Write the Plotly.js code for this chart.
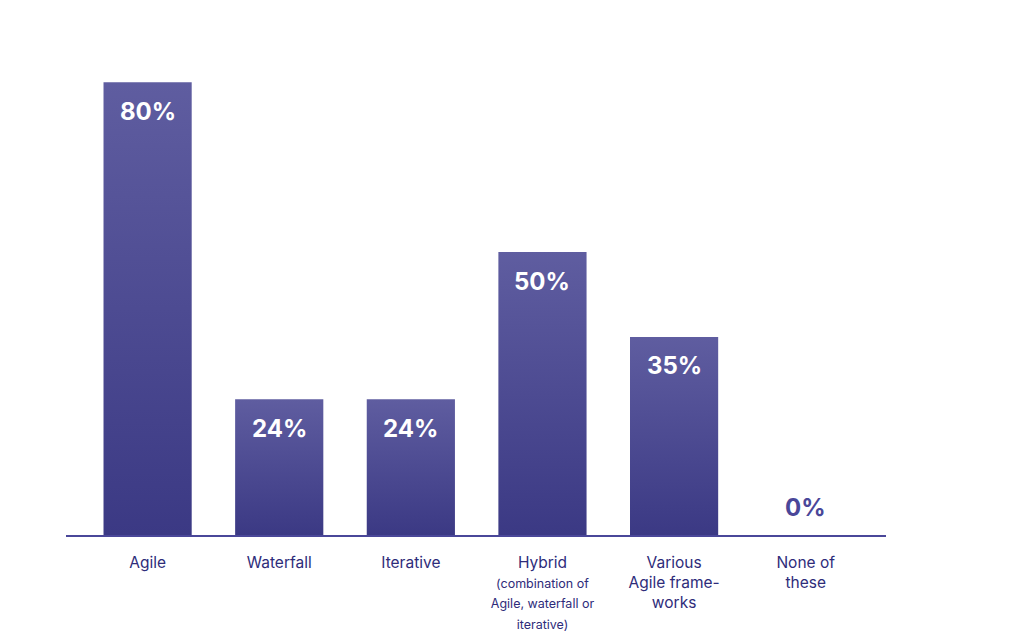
<!DOCTYPE html>
<html>
<head>
<meta charset="utf-8">
<script src="https://cdn.plot.ly/plotly-3.0.1.min.js"></script>
<style>
html,body{margin:0;padding:0;background:#fff;}
#chart{width:1024px;height:643px;}
</style>
</head>
<body>
<div id="chart"></div>
<script>
const categories = ["Agile", "Waterfall", "Iterative", "Hybrid", "Various", "None"];
const tickLabels = [
  "Agile",
  "Waterfall",
  "Iterative",
  "Hybrid<br><span style=\"font-size:12.5px\">(combination of</span><br><span style=\"font-size:12.5px\">Agile, waterfall or</span><br><span style=\"font-size:12.5px\">iterative)</span>",
  "Various<br>Agile frame-<br>works",
  "None of<br>these"
];
const values = [80, 24, 24, 50, 35, 0];
const valueLabels = ["80%", "24%", "24%", "50%", "35%", "0%"];

const annotations = categories.map((c, i) => ({
  x: c, y: values[i], xref: 'x', yref: 'y',
  text: valueLabels[i], showarrow: false,
  yshift: values[i] > 0 ? -29 : 28,
  font: {family: 'Inter, sans-serif', size: 24, color: values[i] > 0 ? '#ffffff' : '#4a4799', weight: 700}
}));

const trace = {
  type: 'bar', x: categories, y: values,
  marker: {color: '#4a4890', line: {width: 0}},
  hoverinfo: 'none'
};

const layout = {
  width: 1024, height: 643,
  margin: {l: 66, r: 138, t: 54, b: 108},
  paper_bgcolor: '#ffffff', plot_bgcolor: '#ffffff',
  bargap: 0.33,
  showlegend: false,
  font: {family: 'Inter, sans-serif', color: '#2e2c7a'},
  xaxis: {
    type: 'category', range: [-0.62, 5.61],
    tickvals: categories, ticktext: tickLabels,
    showline: true, linecolor: '#4a4799', linewidth: 1.5,
    showgrid: false, zeroline: false, ticks: '',
    ticklabelstandoff: 13,
    tickfont: {family: 'Inter, sans-serif', size: 15.5, color: '#2e2c7a'}
  },
  yaxis: {range: [0, 85], visible: false, showgrid: false, zeroline: false},
  annotations: annotations
};

Plotly.newPlot('chart', [trace], layout, {displayModeBar: false, staticPlot: true}).then(gd => {
  const svg = gd.querySelector('svg.main-svg');
  const ns = 'http://www.w3.org/2000/svg';
  let defs = svg.querySelector('defs');
  if (!defs) { defs = document.createElementNS(ns, 'defs'); svg.insertBefore(defs, svg.firstChild); }
  const grad = document.createElementNS(ns, 'linearGradient');
  grad.setAttribute('id', 'barGrad');
  grad.setAttribute('x1', '0'); grad.setAttribute('y1', '0');
  grad.setAttribute('x2', '0'); grad.setAttribute('y2', '1');
  [['0', '#5f5da0'], ['1', '#3b3984']].forEach(([o, c]) => {
    const s = document.createElementNS(ns, 'stop');
    s.setAttribute('offset', o); s.setAttribute('stop-color', c);
    grad.appendChild(s);
  });
  defs.appendChild(grad);
  gd.querySelectorAll('.bars .point path').forEach(p => { p.style.fill = 'url(#barGrad)'; });
});
</script>
</body>
</html>
